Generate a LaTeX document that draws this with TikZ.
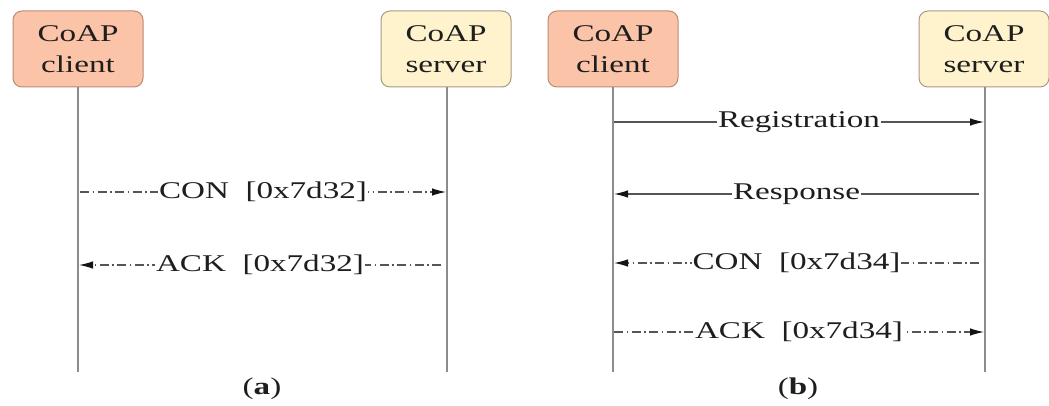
\documentclass[tikz,border=0pt]{standalone}
\newif\ifpala
\IfFileExists{palatino.sty}{\IfFileExists{pplr8t.tfm}{\IfFileExists{uplr8a.pfb}{\palatrue}{}}{}}{}
\ifpala
  \usepackage[T1]{fontenc}
  \usepackage{palatino}
  \newcommand{\xs}{1.26}
\else
  \usepackage{fontspec}
  \setmainfont{Liberation Serif}
  \newcommand{\xs}{1.38}
\fi
\usepackage{graphicx}
\usetikzlibrary{arrows.meta}
\definecolor{clientfill}{RGB}{251,196,168}
\definecolor{clientdraw}{RGB}{185,140,120}
\definecolor{serverfill}{RGB}{255,243,206}
\definecolor{serverdraw}{RGB}{165,155,135}
\definecolor{txt}{RGB}{30,30,30}
\definecolor{lifeline}{RGB}{140,140,140}
\definecolor{msgcol}{RGB}{85,85,85}
\definecolor{tipcol}{RGB}{20,20,20}
\newcommand{\sx}[1]{\scalebox{\xs}[1]{#1}}
\begin{document}
\begin{tikzpicture}[x=1pt,y=-1pt,
  box/.style={draw, line width=1pt, rounded corners=9pt, minimum width=130pt, minimum height=76pt,
    align=center, inner sep=0pt, text=txt, font=\fontsize{24}{31}\selectfont},
  clientbox/.style={box, fill=clientfill, draw=clientdraw},
  serverbox/.style={box, fill=serverfill, draw=serverdraw},
  life/.style={draw=lifeline, line width=1.8pt},
  msg/.style={draw=msgcol, line width=1.1pt, dash pattern=on 9pt off 3.5pt on 1.5pt off 3.5pt,
    -{Latex[length=14pt,width=7.5pt,color=tipcol]}},
  solidmsg/.style={draw=msgcol, line width=1.1pt, -{Latex[length=14pt,width=7.5pt,color=tipcol]}},
  lab/.style={fill=white, inner sep=1pt, text=txt, font=\fontsize{24}{28}\selectfont},
  captext/.style={text=txt, font=\fontsize{24}{28}\selectfont}
]
\useasboundingbox (0,0) rectangle (1049,406);

% (a)
\node[clientbox] (ca) at (78,49) {\sx{CoAP}\\\sx{client}};
\node[serverbox] (sa) at (446,49) {\sx{CoAP}\\\sx{server}};
\coordinate (caend) at (78,372);
\coordinate (saend) at (447,372);
\draw[life] (ca.south -| caend) -- (caend);
\draw[life] (sa.south -| saend) -- (saend);

\coordinate (a1s) at (80,192);
\coordinate (a1e) at (446,192);
\coordinate (a2s) at (441,265);
\coordinate (a2e) at (79,265);
\draw[msg] (a1s) -- node[lab] {\sx{CON\ \ [0x7d32]}} (a1e);
\draw[msg] (a2s) -- node[lab] {\sx{ACK\ \ [0x7d32]}} (a2e);

% (b)
\node[clientbox] (cb) at (613,49) {\sx{CoAP}\\\sx{client}};
\node[serverbox] (sb) at (984,49) {\sx{CoAP}\\\sx{server}};
\coordinate (cbend) at (613,372);
\coordinate (sbend) at (985,372);
\draw[life] (cb.south -| cbend) -- (cbend);
\draw[life] (sb.south -| sbend) -- (sbend);

\coordinate (b1s) at (614,122);
\coordinate (b1e) at (984,122);
\coordinate (b2s) at (979,194);
\coordinate (b2e) at (614,194);
\coordinate (b3s) at (979,263);
\coordinate (b3e) at (614,263);
\coordinate (b4s) at (614,332);
\coordinate (b4e) at (984,332);
\draw[solidmsg] (b1s) -- node[lab] {\sx{Registration}} (b1e);
\draw[solidmsg] (b2s) -- node[lab] {\sx{Response}} (b2e);
\draw[msg] (b3s) -- node[lab] {\sx{CON\ \ [0x7d34]}} (b3e);
\draw[msg] (b4s) -- node[lab] {\sx{ACK\ \ [0x7d34]}} (b4e);

% captions
\node[captext] (capa) at (262,389) {\sx{(\textbf{a})}};
\node[captext] (capb) at (798,389) {\sx{(\textbf{b})}};
\end{tikzpicture}
\end{document}
